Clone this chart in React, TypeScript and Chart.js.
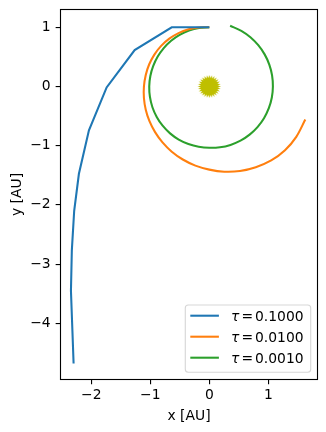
import React, { useEffect, useRef } from "react";
import { Chart, registerables } from "chart.js";

Chart.register(...registerables);

const FONT = "'DejaVu Sans'";
const FS = 13.89;

const xTicks = [-2, -1, 0, 1];
const yTicks = [-4, -3, -2, -1, 0, 1];
const xLimits = [-2.522, 1.834];
const yLimits = [-4.95, 1.3];
const xTitle = "x [AU]";
const yTitle = "y [AU]";

const labels = ["τ = 0.1000", "τ = 0.0100", "τ = 0.0010"];
const colors = ["#1f77b4", "#ff7f0e", "#2ca02c"];

const blueX = [0.0, -0.637, -1.265, -1.74, -2.04, -2.21, -2.29, -2.33, -2.345, -2.32, -2.3];
const blueY = [1.0, 1.0, 0.615, -0.017, -0.74, -1.475, -2.1, -2.77, -3.45, -4.13, -4.68];

const orangeX = [0.0, -0.176, -0.351, -0.521, -0.678, -0.816, -0.931, -1.02, -1.078, -1.108, -1.108, -1.077, -1.014, -0.919, -0.793, -0.636, -0.449, -0.236, 0.0, 0.254, 0.52, 0.788, 1.049, 1.283, 1.474, 1.627];
const orangeY = [1.0, 0.997, 0.965, 0.902, 0.807, 0.685, 0.538, 0.371, 0.19, 0.0, -0.195, -0.392, -0.586, -0.771, -0.945, -1.102, -1.234, -1.337, -1.405, -1.44, -1.428, -1.364, -1.25, -1.077, -0.851, -0.559];

const greenX = [0.0, -0.174, -0.344, -0.503, -0.647, -0.772, -0.874, -0.95, -0.999, -1.018, -1.006, -0.964, -0.891, -0.791, -0.665, -0.518, -0.354, -0.18, 0.0, 0.181, 0.359, 0.529, 0.683, 0.817, 0.927, 1.009, 1.06, 1.078, 1.064, 1.017, 0.938, 0.83, 0.697, 0.543, 0.353];
const greenY = [1.0, 0.988, 0.944, 0.871, 0.771, 0.648, 0.505, 0.346, 0.176, 0.0, -0.177, -0.351, -0.515, -0.663, -0.792, -0.897, -0.972, -1.018, -1.036, -1.027, -0.987, -0.916, -0.814, -0.686, -0.536, -0.367, -0.187, 0.0, 0.187, 0.37, 0.542, 0.697, 0.831, 0.94, 1.026];

const sunX = [0];
const sunY = [0];
const sunColor = "#bfbf00";

const zip = (xs: number[], ys: number[]) => xs.map((x, i) => ({ x, y: ys[i] }));

function makeSun(): HTMLCanvasElement {
  const c = document.createElement("canvas");
  c.width = 25;
  c.height = 25;
  const g = c.getContext("2d")!;
  const spikes = 28;
  g.beginPath();
  for (let i = 0; i < spikes * 2; i++) {
    const r = i % 2 === 0 ? 11.6 : 8.6;
    const a = (i * Math.PI) / spikes;
    const px = 12.5 + r * Math.cos(a);
    const py = 12.5 + r * Math.sin(a);
    if (i === 0) g.moveTo(px, py);
    else g.lineTo(px, py);
  }
  g.closePath();
  g.fillStyle = sunColor;
  g.fill();
  return c;
}

const framePlugin = {
  id: "frame",
  afterDraw(chart: any) {
    const { ctx, chartArea: a } = chart;
    ctx.save();
    ctx.strokeStyle = "#000";
    ctx.lineWidth = 1.11;
    ctx.strokeRect(a.left, a.top, a.right - a.left, a.bottom - a.top);

    // legend, lower right inside the axes
    const bx = 185.3, by = 305, bw = 125.4, bh = 67.3;
    ctx.beginPath();
    ctx.roundRect(bx, by, bw, bh, 3);
    ctx.fillStyle = "rgba(255,255,255,0.8)";
    ctx.fill();
    ctx.strokeStyle = "rgba(204,204,204,0.8)";
    ctx.lineWidth = 1.11;
    ctx.stroke();
    ctx.textBaseline = "alphabetic";
    ctx.textAlign = "left";
    labels.forEach((label, i) => {
      const y = 315.7 + i * 21;
      ctx.strokeStyle = colors[i];
      ctx.lineWidth = 2.08;
      ctx.beginPath();
      ctx.moveTo(190.3, y);
      ctx.lineTo(218.9, y);
      ctx.stroke();
      const parts = label.split(" ");
      ctx.fillStyle = "#000";
      ctx.font = `italic ${FS}px ${FONT}`;
      ctx.fillText(parts[0], 231, y + 5);
      ctx.font = `${FS}px ${FONT}`;
      ctx.fillText(parts[1], 241.5, y + 5);
      ctx.fillText(parts[2], 255, y + 5);
    });
    ctx.restore();
  },
};

const fmt = (v: any) => String(v).replace("-", "\u2212");

export default function App() {
  const ref = useRef<HTMLCanvasElement>(null);
  useEffect(() => {
    document.body.style.margin = "0";
    const line = (i: number, xs: number[], ys: number[], tension: number) => ({
      type: "line",
      label: labels[i],
      data: zip(xs, ys),
      borderColor: colors[i],
      backgroundColor: colors[i],
      borderWidth: 2.08,
      pointRadius: 0,
      fill: false,
      tension,
    });
    const noPad = (s: any) => {
      s.paddingLeft = 0;
      s.paddingRight = 0;
      s.paddingTop = 0;
      s.paddingBottom = 0;
    };
    const chart = new Chart(ref.current!, {
      type: "line",
      data: {
        datasets: [
          {
            type: "scatter",
            label: "Sun",
            data: zip(sunX, sunY),
            pointStyle: makeSun(),
            pointRadius: 11,
            backgroundColor: sunColor,
            borderColor: sunColor,
          } as any,
          line(0, blueX, blueY, 0),
          line(1, orangeX, orangeY, 0.33),
          line(2, greenX, greenY, 0.33),
        ],
      },
      options: {
        animation: false,
        responsive: false,
        layout: { autoPadding: false, padding: { top: 9.5, right: 8.5, left: 0, bottom: 0 } },
        plugins: { legend: { display: false }, tooltip: { enabled: false } },
        scales: {
          x: {
            type: "linear",
            min: xLimits[0],
            max: xLimits[1],
            afterBuildTicks: (s: any) => {
              s.ticks = xTicks.map((value) => ({ value }));
            },
            afterFit: (s: any) => {
              s.height = 52.5;
              noPad(s);
            },
            border: { display: false },
            grid: { drawOnChartArea: false, drawTicks: true, tickLength: 4.86, color: "#000", lineWidth: 1.11 },
            ticks: {
              color: "#000",
              font: { family: FONT, size: FS },
              padding: 3,
              maxRotation: 0,
              autoSkip: false,
              callback: fmt,
            },
            title: {
              display: true,
              text: xTitle,
              color: "#000",
              font: { family: FONT, size: FS },
              padding: { top: 0, bottom: 7 },
            },
          },
          y: {
            type: "linear",
            min: yLimits[0],
            max: yLimits[1],
            afterBuildTicks: (s: any) => {
              s.ticks = yTicks.map((value) => ({ value }));
            },
            afterFit: (s: any) => {
              s.width = 60.5;
              noPad(s);
            },
            border: { display: false },
            grid: { drawOnChartArea: false, drawTicks: true, tickLength: 4.86, color: "#000", lineWidth: 1.11 },
            ticks: {
              color: "#000",
              font: { family: FONT, size: FS },
              padding: 5,
              autoSkip: false,
              callback: fmt,
            },
            title: {
              display: true,
              text: yTitle,
              color: "#000",
              font: { family: FONT, size: FS },
              padding: { top: 9, bottom: 0 },
            },
          },
        },
      },
      plugins: [framePlugin],
    } as any);
    return () => chart.destroy();
  }, []);
  return (
    <div style={{ width: 326, height: 432 }}>
      <canvas ref={ref} width={326} height={432} style={{ display: "block" }} />
    </div>
  );
}
